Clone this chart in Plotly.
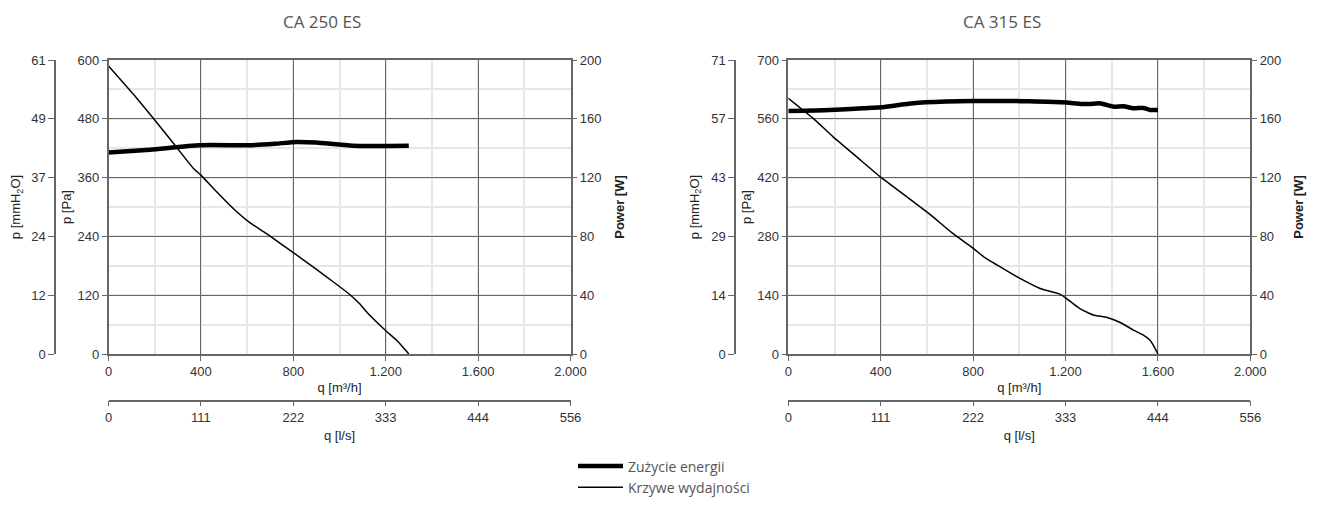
import plotly.graph_objects as go

# page body has an 8px margin; keep the figure inside the window
OFF = 8
W, H = 1319 - 2 * OFF, 506 - 2 * OFF

# ---------------- data ----------------
titles = ["CA 250 ES", "CA 315 ES"]

q_tickvals = [0, 400, 800, 1200, 1600, 2000]
q_ticktext = ["0", "400", "800", "1.200", "1.600", "2.000"]
ls_ticktext = ["0", "111", "222", "333", "444", "556"]

# CA 250 ES
a_perf_q = [0, 108, 194, 281, 367, 400, 468, 540, 612, 683, 800, 899, 971, 1043, 1086, 1129, 1197, 1245, 1273, 1291, 1300]
a_perf_p = [588, 530, 481, 430, 379, 365, 331, 297, 268, 246, 207, 173, 148, 122, 103, 80, 49, 29, 15, 5, 0]
a_pow_q = [0, 180, 396, 612, 720, 813, 899, 1058, 1300]
a_pow_w = [137, 139, 142, 142, 143, 144.2, 143.8, 141.7, 141.7]
a_pa_ticks = [0, 120, 240, 360, 480, 600]
a_mm_text = ["0", "12", "24", "37", "49", "61"]
a_pa_max = 600

# CA 315 ES
b_perf_q = [0, 108, 194, 295, 400, 511, 612, 712, 800, 849, 928, 1003, 1090, 1173, 1202, 1262, 1320, 1380, 1437, 1494, 1537, 1566, 1580, 1600]
b_perf_p = [609, 561, 517, 470, 421, 375, 333, 287, 252, 230, 204, 180, 156, 143, 133, 108, 93, 87, 75, 57, 45, 33, 21, 0]
b_pow_q = [0, 180, 324, 400, 540, 683, 800, 971, 1043, 1187, 1273, 1305, 1348, 1406, 1450, 1494, 1537, 1566, 1600]
b_pow_w = [165.3, 166, 167.2, 167.8, 170.6, 171.7, 172.1, 172.1, 171.9, 171.2, 170.1, 170.1, 170.6, 168.3, 168.5, 167.2, 167.4, 166, 166]
b_pa_ticks = [0, 140, 280, 420, 560, 700]
b_mm_text = ["0", "14", "29", "43", "57", "71"]
b_pa_max = 700

pow_range = [0, 200]
pow_ticks = [0, 40, 80, 120, 160, 200]

# ---------------- layout helpers ----------------
def px_x(p):
    return (p - OFF) / W

def px_y(p):
    return 1 - (p - OFF) / H

AX = "#666666"
MINOR = "#e6e6e6"
TICKFONT = dict(family="Liberation Sans, Arial, sans-serif", size=13, color="#333333")
TITLEFONT = dict(family="Liberation Sans, Arial, sans-serif", size=13, color="#222222")
HEADFONT = dict(family="Open Sans, Lato, sans-serif", size=17, color="#555555")
LEGFONT = dict(family="Open Sans, Lato, sans-serif", size=14, color="#555555")

ydom = [px_y(354), px_y(60)]
charts = [
    dict(x0=108.5, x1=570.5, mmx=55, title_x=322, perf=(a_perf_q, a_perf_p), pw=(a_pow_q, a_pow_w),
         pa_ticks=a_pa_ticks, mm_text=a_mm_text, pa_max=a_pa_max),
    dict(x0=788.3, x1=1250.3, mmx=735, title_x=1002, perf=(b_perf_q, b_perf_p), pw=(b_pow_q, b_pow_w),
         pa_ticks=b_pa_ticks, mm_text=b_mm_text, pa_max=b_pa_max),
]

fig = go.Figure()
layout = {}
annotations = []

for i, c in enumerate(charts):
    k = 2 * i + 1
    xa_main = f"x{k}" if k > 1 else "x"
    xa_sec = f"x{k+1}"
    ya_pa = f"y{3*i+1}" if i > 0 else "y"
    ya_pw = f"y{3*i+2}"
    ya_mm = f"y{3*i+3}"

    def lname(ref):
        return ref.replace("x", "xaxis").replace("y", "yaxis")

    xdom = [px_x(c["x0"]), px_x(c["x1"])]

    layout[lname(xa_main)] = dict(
        domain=xdom, range=[0, 2000], anchor=ya_pa, automargin=False,
        tickmode="array", tickvals=q_tickvals, ticktext=q_ticktext,
        showgrid=True, gridcolor=AX, gridwidth=1,
        minor=dict(dtick=200, showgrid=True, gridcolor=MINOR, gridwidth=1.5, ticks=""),
        showline=True, linecolor=AX, linewidth=1.5, mirror=True,
        ticks="outside", ticklen=5, tickcolor=AX,
        tickfont=TICKFONT, zeroline=False,
        title=dict(text="q [m³/h]", font=TITLEFONT, standoff=5),
    )
    layout[lname(xa_sec)] = dict(
        range=[0, 2000], overlaying=xa_main, anchor="free", position=px_y(400.5), side="bottom",
        automargin=False,
        tickmode="array", tickvals=q_tickvals, ticktext=ls_ticktext,
        showgrid=False, showline=True, linecolor=AX, linewidth=1.5,
        ticks="outside", ticklen=5, tickcolor=AX, tickfont=TICKFONT, zeroline=False,
        title=dict(text="q [l/s]", font=TITLEFONT, standoff=6),
    )
    layout[lname(ya_pa)] = dict(
        domain=ydom, range=[0, c["pa_max"]], anchor=xa_main, automargin=False,
        tickmode="array", tickvals=c["pa_ticks"],
        showgrid=True, gridcolor=AX, gridwidth=1,
        minor=dict(dtick=c["pa_max"] / 10, showgrid=True, gridcolor=MINOR, gridwidth=1.5, ticks=""),
        showline=True, linecolor=AX, linewidth=1.5,
        ticks="outside", ticklen=5, tickcolor=AX, tickfont=TICKFONT, zeroline=False,
        title=dict(text="p [Pa]", font=TITLEFONT, standoff=3),
    )
    layout[lname(ya_pw)] = dict(
        range=pow_range, overlaying=ya_pa, anchor=xa_main, side="right", automargin=False,
        tickmode="array", tickvals=pow_ticks,
        showgrid=False, showline=True, linecolor=AX, linewidth=1.5,
        ticks="outside", ticklen=5, tickcolor=AX, tickfont=TICKFONT, zeroline=False,
        title=dict(text="<b>Power [W]</b>", font=TITLEFONT, standoff=14),
    )
    layout[lname(ya_mm)] = dict(
        range=[0, c["pa_max"]], overlaying=ya_pa, anchor="free", position=px_x(c["mmx"]), side="left",
        automargin=False,
        tickmode="array", tickvals=c["pa_ticks"], ticktext=c["mm_text"],
        showgrid=False, showline=True, linecolor=AX, linewidth=1.5,
        ticks="outside", ticklen=6, tickcolor=AX, tickfont=TICKFONT, zeroline=False,
        title=dict(text="p [mmH<sub>2</sub>O]", font=TITLEFONT, standoff=8),
    )

    fig.add_trace(go.Scatter(
        x=c["pw"][0], y=c["pw"][1], xaxis=xa_main, yaxis=ya_pw, mode="lines",
        line=dict(color="#000000", width=4.5, shape="spline", smoothing=0.6),
        name="Zużycie energii", legendgroup="pw", showlegend=(i == 0),
    ))
    fig.add_trace(go.Scatter(
        x=c["perf"][0], y=c["perf"][1], xaxis=xa_main, yaxis=ya_pa, mode="lines",
        line=dict(color="#000000", width=1.5, shape="spline", smoothing=0.4),
        name="Krzywe wydajności", legendgroup="perf", showlegend=(i == 0),
    ))
    fig.add_trace(go.Scatter(x=[None], y=[None], xaxis=xa_sec, yaxis=ya_mm, showlegend=False, hoverinfo="skip"))

    annotations.append(dict(
        text=titles[i], x=px_x(c["title_x"]), y=1, xref="paper", yref="paper",
        xanchor="center", yanchor="top", showarrow=False, font=HEADFONT,
    ))

fig.update_layout(
    width=W, height=H,
    margin=dict(l=0, r=0, t=0, b=0, autoexpand=False),
    paper_bgcolor="white", plot_bgcolor="white",
    showlegend=True,
    legend=dict(
        x=px_x(573), xanchor="left", y=px_y(477), yanchor="middle",
        orientation="v", font=LEGFONT,
        bgcolor="rgba(0,0,0,0)", tracegroupgap=0, itemwidth=45,
    ),
    annotations=annotations,
    **layout,
)

fig.write_html("out.html")
